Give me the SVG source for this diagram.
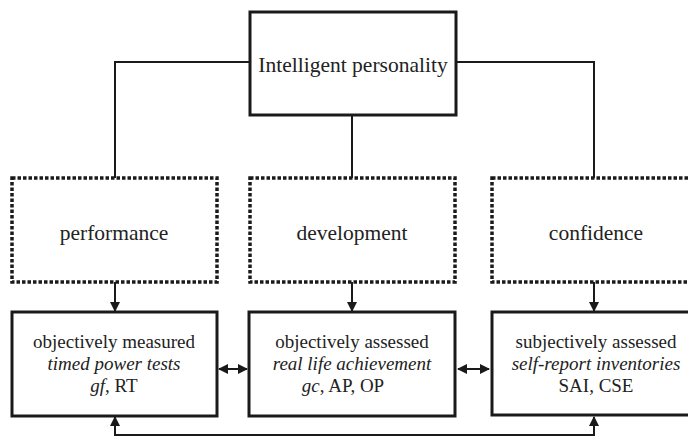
<svg xmlns="http://www.w3.org/2000/svg" width="688" height="437" viewBox="0 0 688 437">
<style>
.solid{fill:#fff;stroke:#1a1a1a;stroke-width:3}
.dot{fill:#fff;stroke:#1a1a1a;stroke-width:3.5;stroke-dasharray:3.5 2}
.ln{fill:none;stroke:#1a1a1a;stroke-width:2}
.t{font-family:"Liberation Serif","Times New Roman",serif;fill:#222;text-anchor:middle}
.big{font-size:21.5px}
.sm{font-size:19px}
.it{font-style:italic}
</style>
<defs>
<marker id="ah" viewBox="0 0 10 10" refX="9" refY="5" markerWidth="5" markerHeight="5" orient="auto-start-reverse" markerUnits="strokeWidth">
<path d="M0,0 L10,5 L0,10 Z" fill="#1a1a1a"/>
</marker>
</defs>
<g id="connectors">
<polyline class="ln" points="250,62 115,62 115,178"/>
<polyline class="ln" points="456,62 594,62 594,178"/>
<line class="ln" x1="352" y1="115" x2="352" y2="178"/>
<line class="ln" x1="115" y1="282" x2="115" y2="311" marker-end="url(#ah)"/>
<line class="ln" x1="352" y1="282" x2="352" y2="311" marker-end="url(#ah)"/>
<line class="ln" x1="594" y1="282" x2="594" y2="311" marker-end="url(#ah)"/>
<line class="ln" x1="219" y1="369" x2="247" y2="369" marker-start="url(#ah)" marker-end="url(#ah)"/>
<line class="ln" x1="458" y1="369" x2="489" y2="369" marker-start="url(#ah)" marker-end="url(#ah)"/>
<polyline class="ln" points="115,417 115,435 594,435 594,417" marker-start="url(#ah)" marker-end="url(#ah)"/>
</g>
<g id="intelligent-personality">
<rect class="solid" x="250" y="12" width="206" height="103"/>
<text class="t big" x="353" y="72">Intelligent personality</text>
</g>
<g id="performance">
<rect class="dot" x="12" y="178" width="205" height="104"/>
<text class="t big" x="114" y="240">performance</text>
</g>
<g id="development">
<rect class="dot" x="250" y="178" width="205" height="104"/>
<text class="t big" x="352" y="240">development</text>
</g>
<g id="confidence">
<rect class="dot" x="492" y="178" width="205" height="104"/>
<text class="t big" x="596" y="240">confidence</text>
</g>
<g id="objectively-measured">
<rect class="solid" x="12" y="312" width="205" height="104"/>
<text class="t sm" x="114" y="348">objectively measured</text>
<text class="t sm it" x="114" y="370">timed power tests</text>
<text class="t sm" x="114" y="392"><tspan class="it">gf</tspan>, RT</text>
</g>
<g id="objectively-assessed">
<rect class="solid" x="249" y="312" width="206" height="104"/>
<text class="t sm" x="352" y="348">objectively assessed</text>
<text class="t sm it" x="352" y="370">real life achievement</text>
<text class="t sm" x="343" y="392"><tspan class="it">gc</tspan>, AP, OP</text>
</g>
<g id="subjectively-assessed">
<rect class="solid" x="492" y="312" width="205" height="103"/>
<text class="t sm" x="596" y="348">subjectively assessed</text>
<text class="t sm it" x="596" y="370">self-report inventories</text>
<text class="t sm" x="596" y="392">SAI, CSE</text>
</g>
</svg>
